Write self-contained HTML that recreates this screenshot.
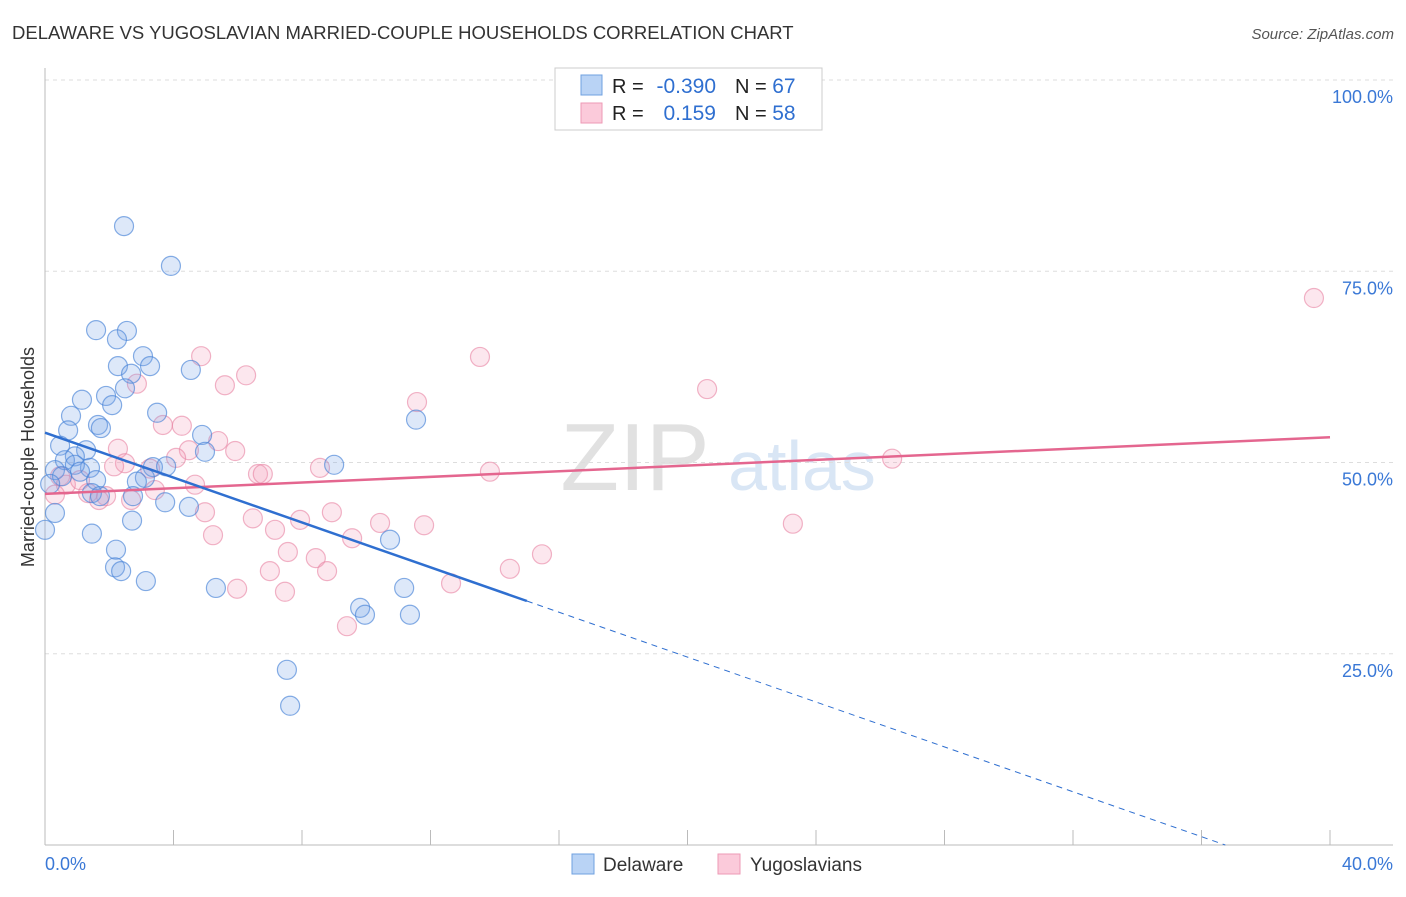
<!DOCTYPE html>
<html><head><meta charset="utf-8"><style>
body{margin:0;background:#fff;font-family:"Liberation Sans",sans-serif;}
svg text{font-family:"Liberation Sans",sans-serif;}
</style></head><body>
<svg id="chart" width="1406" height="892" viewBox="0 0 1406 892" xmlns="http://www.w3.org/2000/svg">
<text x="12" y="39" font-size="18.5" fill="#333">DELAWARE VS YUGOSLAVIAN MARRIED-COUPLE HOUSEHOLDS CORRELATION CHART</text>
<text x="1394" y="39" font-size="15" fill="#555" font-style="italic" text-anchor="end">Source: ZipAtlas.com</text>
<g>
<text x="635" y="490" font-size="96" fill="#d8d8d8" font-family="Liberation Serif" text-anchor="middle" opacity="0.75">ZIP</text>
<text x="802" y="490" font-size="70" fill="#c9dcf2" text-anchor="middle" opacity="0.7">atlas</text>
</g>
<g id="grid"></g>
<g id="axes"></g>
<g id="points"></g>
<g id="trends"></g>
<text transform="translate(34,457) rotate(-90)" font-size="18" fill="#333" text-anchor="middle">Married-couple Households</text>
<g>
<rect x="555" y="68" width="267" height="62" fill="#fff" stroke="#ccc"/>
<rect x="581" y="75" width="21" height="20" fill="#b9d3f5" stroke="#6fa0e0"/>
<rect x="581" y="103" width="21" height="20" fill="#fbcada" stroke="#ee9ab5"/>
<text x="612" y="93" font-size="20" fill="#222">R = </text>
<text x="716" y="93" font-size="21" fill="#2f6fd0" text-anchor="end">-0.390</text>
<text x="735" y="93" font-size="20" fill="#222">N = <tspan fill="#2f6fd0" font-size="21">67</tspan></text>
<text x="612" y="120" font-size="20" fill="#222">R = </text>
<text x="716" y="120" font-size="21" fill="#2f6fd0" text-anchor="end">0.159</text>
<text x="735" y="120" font-size="20" fill="#222">N = <tspan fill="#2f6fd0" font-size="21">58</tspan></text>
</g>
<g>
<rect x="572" y="854" width="22" height="20" fill="#b9d3f5" stroke="#6fa0e0"/>
<text x="603" y="871" font-size="19" fill="#333">Delaware</text>
<rect x="718" y="854" width="22" height="20" fill="#fbcada" stroke="#ee9ab5"/>
<text x="750" y="871" font-size="19" fill="#333">Yugoslavians</text>
</g>
</svg>
<script>
const yTicks=[100,75,50,25];
const yTickLabels=["100.0%","75.0%","50.0%","25.0%"];
const xTickLabels=["0.0%","40.0%"];
const delX=[2.46,3.92,1.59,2.55,2.24,3.05,2.27,3.27,4.54,2.68,2.49,1.90,1.15,2.09,3.49,0.81,1.65,1.74,0.72,11.55,4.89,0.47,1.28,4.98,0.93,0.62,9.0,3.36,3.77,1.40,0.93,0.31,1.09,0.53,3.11,1.59,2.86,0.16,1.46,1.71,2.74,3.74,4.48,0.31,2.71,0,1.46,10.74,2.21,2.18,2.37,3.14,5.32,11.18,9.81,9.96,11.36,7.53,7.63];
const delY=[80.9,75.7,67.3,67.2,66.1,63.9,62.6,62.6,62.1,61.6,59.7,58.7,58.2,57.5,56.5,56.1,54.9,54.5,54.2,55.6,53.6,52.2,51.6,51.4,50.8,50.3,49.7,49.4,49.5,49.3,49.7,49.0,48.8,48.2,48.0,47.7,47.5,47.2,46.0,45.6,45.6,44.8,44.2,43.4,42.4,41.2,40.7,39.9,38.6,36.3,35.8,34.5,33.6,33.6,31.0,30.1,30.1,22.9,18.2];
const yugX=[39.5,13.54,4.86,20.61,6.26,5.60,2.86,11.58,4.26,3.67,5.39,5.92,2.27,4.48,2.49,4.08,26.37,2.15,8.56,3.27,13.85,6.63,6.78,0.47,0.65,1.09,4.67,3.42,1.34,1.90,0.31,1.68,2.68,4.98,8.93,7.94,6.47,10.43,11.80,23.28,7.16,5.23,9.56,7.56,15.47,8.43,7.00,8.78,14.47,12.64,5.98,7.47,9.40];
const yugY=[71.5,63.8,63.9,59.6,61.4,60.1,60.3,57.9,54.8,54.9,52.8,51.5,51.8,51.6,49.9,50.6,50.5,49.5,49.3,49.2,48.8,48.5,48.5,48.2,47.1,47.7,47.1,46.4,46.0,45.6,45.8,45.1,45.1,43.5,43.5,42.5,42.7,42.1,41.8,42.0,41.2,40.5,40.1,38.3,38.0,37.5,35.8,35.8,36.1,34.2,33.5,33.1,28.6];
const delTrend=[53.9,-1.467];
const yugTrend=[45.9,0.185];
const NS="http://www.w3.org/2000/svg";
const sx=v=>45+v*1285/40, sy=v=>845-v*7.65;
function mk(tag,attrs,parent){const e=document.createElementNS(NS,tag);for(const k in attrs)e.setAttribute(k,attrs[k]);parent.appendChild(e);return e;}
const grid=document.getElementById('grid'),axes=document.getElementById('axes'),pts=document.getElementById('points'),tr=document.getElementById('trends');
yTicks.forEach((t,i)=>{
 const l=mk('line',{x1:45,x2:1393,y1:sy(t),y2:sy(t),stroke:'#ddd','stroke-dasharray':'4,4'},grid);
 
 
 const tx=mk('text',{x:1393,y:sy(t)+23,'font-size':18,fill:'#3a78d6','text-anchor':'end'},axes);
 tx.textContent=yTickLabels[i];
 
 
});
let a=mk('line',{x1:45,x2:45,y1:68,y2:845,stroke:'#bbb'},axes);


a=mk('line',{x1:45,x2:1393,y1:845,y2:845,stroke:'#bbb'},axes);


for(let i=0;i<=10;i++){const t=mk('line',{x1:sx(i*4),x2:sx(i*4),y1:830,y2:845,stroke:'#bbb'},axes);
 
 }
[[0,'start',45],[40,'end',1393]].forEach((d,i)=>{const t=mk('text',{x:d[2],y:870,'font-size':18,fill:'#3a78d6','text-anchor':d[1]},axes);t.textContent=xTickLabels[i];
 
 });
yugX.forEach((x,i)=>{const c=mk('circle',{cx:sx(x),cy:sy(yugY[i]),r:9.5,fill:'rgba(244,160,188,0.25)',stroke:'rgba(232,130,162,0.6)','stroke-width':1.2},pts);
 
 });
delX.forEach((x,i)=>{const c=mk('circle',{cx:sx(x),cy:sy(delY[i]),r:9.5,fill:'rgba(120,165,230,0.25)',stroke:'rgba(70,130,215,0.65)','stroke-width':1.2},pts);
 
 });
let l=mk('line',{x1:sx(0),y1:sy(yugTrend[0]),x2:sx(40),y2:sy(yugTrend[0]+40*yugTrend[1]),stroke:'#e4668f','stroke-width':2.5},tr);


l=mk('line',{x1:sx(0),y1:sy(delTrend[0]),x2:sx(15),y2:sy(delTrend[0]+15*delTrend[1]),stroke:'#2f6fd0','stroke-width':2.5},tr);


const xe=-delTrend[0]/delTrend[1];
l=mk('line',{x1:sx(15),y1:sy(delTrend[0]+15*delTrend[1]),x2:sx(xe),y2:sy(0),stroke:'#2f6fd0','stroke-width':1,'stroke-dasharray':'6,5'},tr);


</script>
</body></html>
